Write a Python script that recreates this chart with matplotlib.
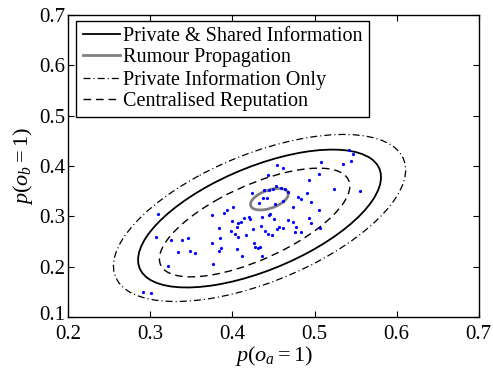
import matplotlib

matplotlib.use('Agg')
import matplotlib.pyplot as plt
import matplotlib.transforms as mtransforms
from matplotlib.patches import Ellipse
import numpy as np

plt.rcParams['font.family'] = 'serif'
plt.rcParams['font.serif'] = ['Liberation Serif', 'Times New Roman', 'DejaVu Serif']
plt.rcParams['mathtext.fontset'] = 'custom'
plt.rcParams['mathtext.rm'] = 'Liberation Serif'
plt.rcParams['mathtext.it'] = 'Liberation Serif:italic'
plt.rcParams['lines.scale_dashes'] = False

# sample points
pts_x = [0.309, 0.307, 0.325, 0.338, 0.346, 0.334, 0.348, 0.354, 0.321, 0.375,
         0.390, 0.393, 0.401, 0.384, 0.385, 0.375, 0.386, 0.384, 0.376, 0.400,
         0.407, 0.411, 0.414, 0.420, 0.421, 0.405, 0.398, 0.403, 0.407, 0.417,
         0.425, 0.405, 0.412, 0.424, 0.432, 0.426, 0.428, 0.431, 0.434, 0.291,
         0.301, 0.542, 0.547, 0.545, 0.535, 0.508, 0.505, 0.493, 0.524, 0.555,
         0.454, 0.462, 0.443, 0.453, 0.438, 0.444, 0.450, 0.459, 0.464, 0.468,
         0.437, 0.442, 0.452, 0.462, 0.480, 0.483, 0.491, 0.496, 0.474, 0.505,
         0.446, 0.445, 0.451, 0.436, 0.468, 0.474, 0.493, 0.496, 0.435, 0.440,
         0.454, 0.457, 0.461, 0.477, 0.448, 0.443, 0.476, 0.484, 0.507, 0.436]
pts_y = [0.305, 0.258, 0.252, 0.253, 0.256, 0.229, 0.231, 0.227, 0.201, 0.303,
         0.306, 0.313, 0.318, 0.276, 0.256, 0.246, 0.238, 0.232, 0.206, 0.290,
         0.287, 0.289, 0.297, 0.299, 0.294, 0.278, 0.270, 0.264, 0.258, 0.263,
         0.274, 0.235, 0.221, 0.346, 0.327, 0.246, 0.240, 0.238, 0.240, 0.150,
         0.148, 0.431, 0.424, 0.410, 0.403, 0.407, 0.384, 0.372, 0.354, 0.350,
         0.401, 0.397, 0.382, 0.360, 0.352, 0.352, 0.354, 0.356, 0.354, 0.349,
         0.337, 0.337, 0.324, 0.331, 0.339, 0.334, 0.346, 0.329, 0.319, 0.313,
         0.304, 0.302, 0.294, 0.298, 0.292, 0.289, 0.296, 0.287, 0.281, 0.271,
         0.274, 0.278, 0.276, 0.279, 0.263, 0.265, 0.269, 0.268, 0.276, 0.221]

# contour ellipses: centre, half extent in x / y, correlation
names = ['Private & Shared Information', 'Rumour Propagation',
         'Private Information Only', 'Centralised Reputation']
cen_x = [0.433, 0.445, 0.433, 0.427]
cen_y = [0.2956, 0.334, 0.2967, 0.2877]
ext_x = [0.148, 0.023, 0.178, 0.116]
ext_y = [0.137, 0.0214, 0.166, 0.108]
corr = [0.60, 0.48, 0.575, 0.67]

styles = [
    dict(color='black', lw=1.3, ls='-'),
    dict(color='#808080', lw=2.0, ls='-'),
    dict(color='black', lw=0.9, ls=(0, (5, 2.2, 0.8, 2.2))),
    dict(color='black', lw=1.0, ls=(0, (5.5, 3.5))),
]

fig = plt.figure(figsize=(4.93, 3.69), dpi=100)
ax = fig.add_axes([0.1385, 0.141, 0.8325, 0.8183])

ax.plot(pts_x, pts_y, 'o', color='blue', ms=2.3, mec='none', zorder=3)

for i in range(len(names)):
    sxy = corr[i] * ext_x[i] * ext_y[i]
    cov = np.array([[ext_x[i] ** 2, sxy], [sxy, ext_y[i] ** 2]])
    vals, vecs = np.linalg.eigh(cov)
    ang = np.degrees(np.arctan2(vecs[1, 1], vecs[0, 1]))
    e = Ellipse((cen_x[i], cen_y[i]), 2 * np.sqrt(vals[1]), 2 * np.sqrt(vals[0]),
                angle=ang, fill=False, zorder=2, **styles[i])
    ax.add_patch(e)
    ax.plot([], [], label=names[i], **styles[i])

ax.set_xlim(0.2, 0.7)
ax.set_ylim(0.1, 0.7)
ax.set_xticks(np.arange(0.2, 0.71, 0.1))
ax.set_yticks(np.arange(0.1, 0.71, 0.1))
ax.set_xticklabels(['0.2', '0.3', '0.4', '0.5', '0.6', '0.7'])
ax.set_yticklabels(['0.1', '0.2', '0.3', '0.4', '0.5', '0.6', '0.7'])
ax.tick_params(direction='in', top=True, right=True, length=4, width=0.8,
               labelsize=15, pad=2)
ax.tick_params(axis='x', pad=6)
for sp in ax.spines.values():
    sp.set_linewidth(1.0)

# lift the corner "0.1" a little, like the original, so it clears "0.2"
lbl = ax.get_yticklabels()[0]
lbl.set_transform(lbl.get_transform() +
                  mtransforms.ScaledTranslation(0, 3 / 72, fig.dpi_scale_trans))

ax.set_xlabel(r'$\mathit{p(o_a=1)}$', fontsize=16, labelpad=0)
ax.set_ylabel(r'$\mathit{p(o_b=1)}$', fontsize=16, labelpad=3)

leg = ax.legend(loc='upper left', bbox_to_anchor=(0.02, 0.981), borderaxespad=0,
                fontsize=14.5, handlelength=1.85, handletextpad=0.17,
                labelspacing=0.12, borderpad=0.3, fancybox=False, framealpha=1)
leg.get_frame().set_edgecolor('black')
leg.get_frame().set_linewidth(1.0)

fig.savefig('out.png', dpi=100)
plt.close(fig)
